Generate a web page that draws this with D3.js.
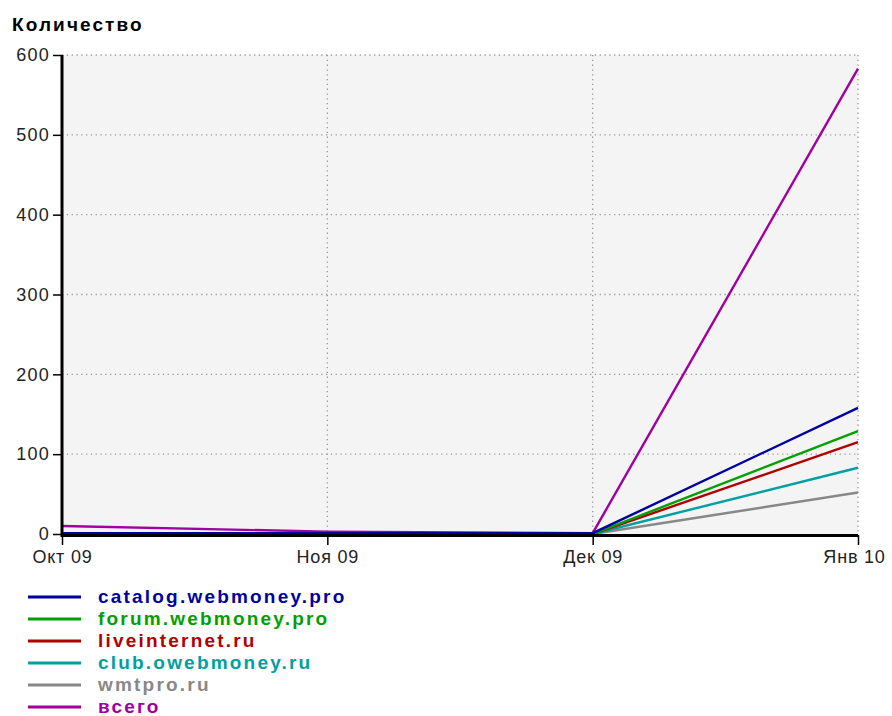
<!DOCTYPE html>
<html><head><meta charset="utf-8">
<script src="https://cdn.jsdelivr.net/npm/d3@7"></script>
<style>body{margin:0;background:#fff}svg{display:block}</style>
</head><body>
<script>
const months = ["Окт 09", "Ноя 09", "Дек 09", "Янв 10"];
const yTicks = [0, 100, 200, 300, 400, 500, 600];
const seriesNames = ["catalog.webmoney.pro", "forum.webmoney.pro", "liveinternet.ru", "club.owebmoney.ru", "wmtpro.ru", "всего"];
const seriesColors = ["#0000a0", "#00a000", "#b00000", "#00a0a0", "#888888", "#a000a0"];
const catalogVals = [1, 1, 1, 158];
const forumVals = [0, 0, 0, 129];
const liveVals = [0, 0, 0, 115];
const clubVals = [0, 0, 0, 83];
const wmtproVals = [0, 0, 0, 52];
const totalVals = [10, 3, 1, 583];

const series = [catalogVals, forumVals, liveVals, clubVals, wmtproVals, totalVals].map((v, i) => ({
  name: seriesNames[i], color: seriesColors[i], values: v
}));

const W = 892, H = 716;
const svg = d3.select("body").append("svg").attr("width", W).attr("height", H);
const font = "'Liberation Sans', Arial, sans-serif";

const x = d3.scalePoint().domain(months).range([62, 858]);
const y = d3.scaleLinear().domain([0, 600]).range([534, 55]);

// background
svg.append("rect").attr("x", 62).attr("y", 55).attr("width", 796).attr("height", 479).attr("fill", "#f4f4f4");

// grid
const grid = svg.append("g").attr("stroke", "#999").attr("stroke-width", 1.3).attr("stroke-dasharray", "1.3,3.5");
grid.selectAll("line.h").data(yTicks.filter(d => d > 0)).join("line")
  .attr("x1", 62).attr("x2", 858).attr("y1", d => y(d)).attr("y2", d => y(d));
grid.selectAll("line.v").data(months.slice(1)).join("line")
  .attr("x1", d => x(d)).attr("x2", d => x(d)).attr("y1", 55).attr("y2", 534);

// lines (draw total first, catalog last)
const line = d3.line().x((d, i) => x(months[i])).y(d => y(d));
svg.append("g").selectAll("path").data(series.slice().reverse()).join("path")
  .attr("d", d => line(d.values)).attr("fill", "none")
  .attr("stroke", d => d.color).attr("stroke-width", 2.4);

// axes
const yAxis = svg.append("g").attr("transform", "translate(62,0)")
  .call(d3.axisLeft(y).tickValues(yTicks).tickSize(9).tickPadding(3));
yAxis.select(".domain").remove();
yAxis.selectAll(".tick line").attr("stroke", "#000").attr("stroke-width", 1.5);
yAxis.selectAll("text").attr("font-family", font).attr("font-size", 18).attr("fill", "#222").attr("letter-spacing", "1.2px");

const xAxis = svg.append("g").attr("transform", "translate(0,535)")
  .call(d3.axisBottom(x).tickSize(10).tickPadding(5));
xAxis.select(".domain").remove();
xAxis.selectAll(".tick line").attr("stroke", "#000").attr("stroke-width", 1.5);
xAxis.selectAll("text").attr("font-family", font).attr("font-size", 18).attr("fill", "#222").attr("letter-spacing", "0.8px");
xAxis.selectAll(".tick").filter(d => d === months[months.length - 1]).select("text").attr("dx", -4);

svg.append("line").attr("x1", 62).attr("x2", 62).attr("y1", 55).attr("y2", 537).attr("stroke", "#000").attr("stroke-width", 3);
svg.append("line").attr("x1", 61).attr("x2", 858).attr("y1", 535.5).attr("y2", 535.5).attr("stroke", "#000").attr("stroke-width", 3);

// title
svg.append("text").attr("x", 12).attr("y", 31).text("Количество")
  .attr("font-family", font).attr("font-weight", "bold").attr("font-size", 19).attr("letter-spacing", "2.1px").attr("fill", "#000");

// legend
const leg = svg.append("g").selectAll("g").data(series).join("g")
  .attr("transform", (d, i) => `translate(0,${597 + i * 22})`);
leg.append("line").attr("x1", 28).attr("x2", 81).attr("y1", 0).attr("y2", 0)
  .attr("stroke", d => d.color).attr("stroke-width", 3);
leg.append("text").attr("x", 98).attr("y", 6).text(d => d.name)
  .attr("font-family", font).attr("font-weight", "bold").attr("font-size", 19)
  .attr("letter-spacing", "2.2px").attr("fill", d => d.color);
</script>
</body></html>
